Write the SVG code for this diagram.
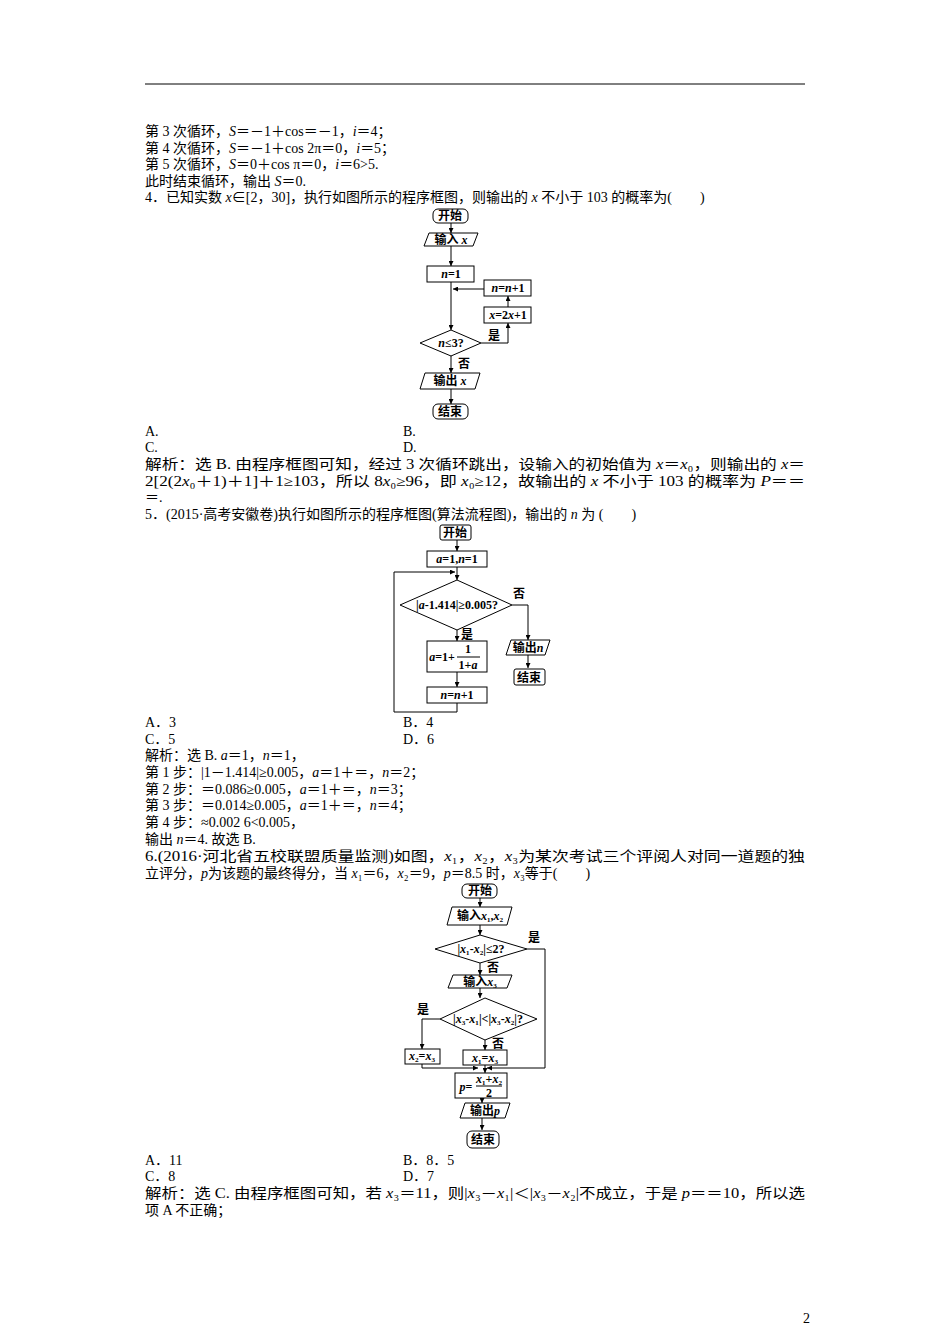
<svg xmlns="http://www.w3.org/2000/svg" width="950" height="1344" viewBox="0 0 950 1344">
<defs>
<marker id="ah" viewBox="0 0 6 6" refX="6" refY="3" markerWidth="5" markerHeight="5" orient="auto"><path d="M0,0 L6,3 L0,6 z" fill="#000"/></marker>
</defs>
<style>
.t{font-family:"Liberation Serif","Noto Sans CJK SC",serif;font-size:14px;fill:#000}
.f{font-family:"Liberation Serif","Noto Sans CJK SC",serif;font-size:12px;font-weight:bold;fill:#000;text-anchor:middle}
.s{fill:#fff;stroke:#000;stroke-width:1}
.c{fill:none;stroke:#000;stroke-width:1}
</style>
<rect width="950" height="1344" fill="#fff"/>
<line x1="145" y1="84" x2="805" y2="84" stroke="#000" stroke-width="1"/>
<g id="text">
<text class="t" x="145" y="136">第 3 次循环，<tspan font-style="italic">S</tspan>＝－1＋cos＝－1，<tspan font-style="italic">i</tspan>＝4；</text>
<text class="t" x="145" y="153">第 4 次循环，<tspan font-style="italic">S</tspan>＝－1＋cos 2π＝0，<tspan font-style="italic">i</tspan>＝5；</text>
<text class="t" x="145" y="169">第 5 次循环，<tspan font-style="italic">S</tspan>＝0＋cos π＝0，<tspan font-style="italic">i</tspan>＝6&gt;5.</text>
<text class="t" x="145" y="186">此时结束循环，输出 <tspan font-style="italic">S</tspan>＝0.</text>
<text class="t" x="145" y="202">4．已知实数 <tspan font-style="italic">x</tspan>∈[2，30]，执行如图所示的程序框图，则输出的 <tspan font-style="italic">x</tspan> 不小于 103 的概率为(　　)</text>
<text class="t" x="145" y="436">A.</text><text class="t" x="403" y="436">B.</text>
<text class="t" x="145" y="452">C.</text><text class="t" x="403" y="452">D.</text>
<text class="t" x="145" y="469" textLength="660" lengthAdjust="spacingAndGlyphs">解析：选 B. 由程序框图可知，经过 3 次循环跳出，设输入的初始值为 <tspan font-style="italic">x</tspan>＝<tspan font-style="italic">x</tspan>₀，则输出的 <tspan font-style="italic">x</tspan>＝</text>
<text class="t" x="145" y="486" textLength="660" lengthAdjust="spacingAndGlyphs">2[2(2<tspan font-style="italic">x</tspan>₀＋1)＋1]＋1≥103，所以 8<tspan font-style="italic">x</tspan>₀≥96，即 <tspan font-style="italic">x</tspan>₀≥12，故输出的 <tspan font-style="italic">x</tspan> 不小于 103 的概率为 <tspan font-style="italic">P</tspan>＝＝</text>
<text class="t" x="145" y="502">＝.</text>
<text class="t" x="145" y="519">5．(2015·高考安徽卷)执行如图所示的程序框图(算法流程图)，输出的 <tspan font-style="italic">n</tspan> 为 (　　)</text>
<text class="t" x="145" y="727">A．3</text><text class="t" x="403" y="727">B．4</text>
<text class="t" x="145" y="744">C．5</text><text class="t" x="403" y="744">D．6</text>
<text class="t" x="145" y="760">解析：选 B. <tspan font-style="italic">a</tspan>＝1，<tspan font-style="italic">n</tspan>＝1，</text>
<text class="t" x="145" y="777">第 1 步：|1－1.414|≥0.005，<tspan font-style="italic">a</tspan>＝1＋＝，<tspan font-style="italic">n</tspan>＝2；</text>
<text class="t" x="145" y="794">第 2 步：＝0.086≥0.005，<tspan font-style="italic">a</tspan>＝1＋＝，<tspan font-style="italic">n</tspan>＝3；</text>
<text class="t" x="145" y="810">第 3 步：＝0.014≥0.005，<tspan font-style="italic">a</tspan>＝1＋＝，<tspan font-style="italic">n</tspan>＝4；</text>
<text class="t" x="145" y="827">第 4 步：≈0.002 6&lt;0.005，</text>
<text class="t" x="145" y="844">输出 <tspan font-style="italic">n</tspan>＝4. 故选 B.</text>
<text class="t" x="145" y="861" textLength="660" lengthAdjust="spacingAndGlyphs">6.(2016·河北省五校联盟质量监测)如图，<tspan font-style="italic">x</tspan>₁，<tspan font-style="italic">x</tspan>₂，<tspan font-style="italic">x</tspan>₃为某次考试三个评阅人对同一道题的独</text>
<text class="t" x="145" y="878">立评分，<tspan font-style="italic">p</tspan>为该题的最终得分，当 <tspan font-style="italic">x</tspan>₁＝6，<tspan font-style="italic">x</tspan>₂＝9，<tspan font-style="italic">p</tspan>＝8.5 时，<tspan font-style="italic">x</tspan>₃等于(　　)</text>
<text class="t" x="145" y="1165">A．11</text><text class="t" x="403" y="1165">B．8．5</text>
<text class="t" x="145" y="1181">C．8</text><text class="t" x="403" y="1181">D．7</text>
<text class="t" x="145" y="1198" textLength="660" lengthAdjust="spacingAndGlyphs">解析：选 C. 由程序框图可知，若 <tspan font-style="italic">x</tspan>₃＝11，则|<tspan font-style="italic">x</tspan>₃－<tspan font-style="italic">x</tspan>₁|＜|<tspan font-style="italic">x</tspan>₃－<tspan font-style="italic">x</tspan>₂|不成立，于是 <tspan font-style="italic">p</tspan>＝＝10，所以选</text>
<text class="t" x="145" y="1215">项 A 不正确；</text>
<text class="t" x="803" y="1323">2</text>
</g>
<g id="fc1-connectors">
<line class="c" x1="451" y1="223" x2="451" y2="233" marker-end="url(#ah)"/>
<line class="c" x1="451" y1="246" x2="451" y2="266" marker-end="url(#ah)"/>
<line class="c" x1="451" y1="282" x2="451" y2="330" marker-end="url(#ah)"/>
<polyline class="c" points="481,343 508,343 508,323" marker-end="url(#ah)"/>
<line class="c" x1="508" y1="307" x2="508" y2="296" marker-end="url(#ah)"/>
<line class="c" x1="484" y1="289" x2="453" y2="289" marker-end="url(#ah)"/>
<line class="c" x1="451" y1="355" x2="451" y2="373" marker-end="url(#ah)"/>
<line class="c" x1="451" y1="389" x2="451" y2="404" marker-end="url(#ah)"/>
<text class="f" x="494" y="340">是</text>
<text class="f" x="464" y="368">否</text>
</g>
<g id="fc1-start"><rect class="s" x="433" y="209" width="35" height="14" rx="5"/><text class="f" x="450" y="220">开始</text></g>
<g id="fc1-input"><polygon class="s" points="429,233 478,233 473,246 424,246"/><text class="f" x="451" y="244">输入 <tspan font-style="italic">x</tspan></text></g>
<g id="fc1-n1"><rect class="s" x="427" y="266" width="47" height="16"/><text class="f" x="451" y="278"><tspan font-style="italic">n</tspan>=1</text></g>
<g id="fc1-nn"><rect class="s" x="484" y="280" width="47" height="16"/><text class="f" x="508" y="292"><tspan font-style="italic">n</tspan>=<tspan font-style="italic">n</tspan>+1</text></g>
<g id="fc1-x"><rect class="s" x="484" y="307" width="47" height="16"/><text class="f" x="508" y="319"><tspan font-style="italic">x</tspan>=2<tspan font-style="italic">x</tspan>+1</text></g>
<g id="fc1-dec"><polygon class="s" points="451,330 481,343 451,356 420,343"/><text class="f" x="451" y="347"><tspan font-style="italic">n</tspan>≤3?</text></g>
<g id="fc1-out"><polygon class="s" points="425,373 480,373 475,389 420,389"/><text class="f" x="450" y="385">输出 <tspan font-style="italic">x</tspan></text></g>
<g id="fc1-end"><rect class="s" x="433" y="404" width="35" height="15" rx="5"/><text class="f" x="450" y="416">结束</text></g>
<g id="fc2-connectors">
<line class="c" x1="457" y1="540" x2="457" y2="551" marker-end="url(#ah)"/>
<line class="c" x1="457" y1="567" x2="457" y2="580" marker-end="url(#ah)"/>
<polyline class="c" points="457,703 457,712 394,712 394,572 455,572" marker-end="url(#ah)"/>
<polyline class="c" points="512,605 528,605 528,640" marker-end="url(#ah)"/>
<line class="c" x1="457" y1="630" x2="457" y2="641" marker-end="url(#ah)"/>
<line class="c" x1="457" y1="672" x2="457" y2="687" marker-end="url(#ah)"/>
<line class="c" x1="528" y1="655" x2="528" y2="668" marker-end="url(#ah)"/>
<text class="f" x="519" y="598">否</text>
<text class="f" x="467" y="639">是</text>
</g>
<g id="fc2-start"><rect class="s" x="440" y="525" width="31" height="15" rx="2"/><text class="f" x="455" y="537">开始</text></g>
<g id="fc2-init"><rect class="s" x="427" y="551" width="60" height="16"/><text class="f" x="457" y="563"><tspan font-style="italic">a</tspan>=1,<tspan font-style="italic">n</tspan>=1</text></g>
<g id="fc2-dec"><polygon class="s" points="457,580 512,605 457,630 400,605"/><text class="f" x="457" y="609" font-size="11">|<tspan font-style="italic">a</tspan>-1.414|≥0.005?</text></g>
<g id="fc2-a"><rect class="s" x="427" y="641" width="60" height="31"/><text class="f" x="442" y="661"><tspan font-style="italic">a</tspan>=1+</text><text class="f" x="468" y="653">1</text><line x1="457" y1="657" x2="480" y2="657" stroke="#000"/><text class="f" x="468" y="669">1+<tspan font-style="italic">a</tspan></text></g>
<g id="fc2-nn"><rect class="s" x="427" y="687" width="60" height="16"/><text class="f" x="457" y="699"><tspan font-style="italic">n</tspan>=<tspan font-style="italic">n</tspan>+1</text></g>
<g id="fc2-out"><polygon class="s" points="511,640 550,640 545,655 506,655"/><text class="f" x="528" y="652">输出<tspan font-style="italic">n</tspan></text></g>
<g id="fc2-end"><rect class="s" x="514" y="669" width="31" height="16" rx="2"/><text class="f" x="529" y="682">结束</text></g>
<g id="fc3-connectors">
<line class="c" x1="480" y1="898" x2="480" y2="907" marker-end="url(#ah)"/>
<line class="c" x1="480" y1="925" x2="480" y2="935" marker-end="url(#ah)"/>
<polyline class="c" points="527,949 545,949 545,1068 487,1068" marker-end="url(#ah)"/>
<line class="c" x1="480" y1="963" x2="480" y2="975" marker-end="url(#ah)"/>
<line class="c" x1="480" y1="988" x2="480" y2="998" marker-end="url(#ah)"/>
<polyline class="c" points="440,1019 422,1019 422,1049" marker-end="url(#ah)"/>
<line class="c" x1="485" y1="1040" x2="485" y2="1050" marker-end="url(#ah)"/>
<polyline class="c" points="422,1064 422,1068 478,1068" marker-end="url(#ah)"/>
<line class="c" x1="485" y1="1065" x2="485" y2="1073" marker-end="url(#ah)"/>
<line class="c" x1="482" y1="1098" x2="482" y2="1103" marker-end="url(#ah)"/>
<line class="c" x1="482" y1="1118" x2="482" y2="1130" marker-end="url(#ah)"/>
<text class="f" x="534" y="942">是</text>
<text class="f" x="493" y="972">否</text>
<text class="f" x="423" y="1014">是</text>
<text class="f" x="498" y="1048" font-size="11">否</text>
</g>
<g id="fc3-start"><rect class="s" x="462" y="884" width="35" height="14" rx="5"/><text class="f" x="480" y="895">开始</text></g>
<g id="fc3-in1"><polygon class="s" points="452,907 512,907 507,925 447,925"/><text class="f" x="480" y="920">输入<tspan font-style="italic">x</tspan>₁,<tspan font-style="italic">x</tspan>₂</text></g>
<g id="fc3-dec1"><polygon class="s" points="480,935 527,949 480,963 435,949"/><text class="f" x="481" y="953" font-size="11">|<tspan font-style="italic">x</tspan>₁-<tspan font-style="italic">x</tspan>₂|≤2?</text></g>
<g id="fc3-in3"><polygon class="s" points="453,975 512,975 507,988 448,988"/><text class="f" x="480" y="986">输入<tspan font-style="italic">x</tspan>₃</text></g>
<g id="fc3-dec2"><polygon class="s" points="485,998 537,1019 485,1040 440,1019"/><text class="f" x="488" y="1023" font-size="10.5">|<tspan font-style="italic">x</tspan>₃-<tspan font-style="italic">x</tspan>₁|&lt;|<tspan font-style="italic">x</tspan>₃-<tspan font-style="italic">x</tspan>₂|?</text></g>
<g id="fc3-x2"><rect class="s" x="405" y="1049" width="35" height="15"/><text class="f" x="422" y="1060" font-size="11"><tspan font-style="italic">x</tspan>₂=<tspan font-style="italic">x</tspan>₃</text></g>
<g id="fc3-x1"><rect class="s" x="463" y="1050" width="44" height="15"/><text class="f" x="485" y="1062"><tspan font-style="italic">x</tspan>₁=<tspan font-style="italic">x</tspan>₃</text></g>
<g id="fc3-p"><rect class="s" x="455" y="1073" width="52" height="25"/><text class="f" x="466" y="1091"><tspan font-style="italic">p</tspan>=</text><text class="f" x="489" y="1083" font-size="10"><tspan font-style="italic">x</tspan>₁+<tspan font-style="italic">x</tspan>₂</text><line x1="476" y1="1086" x2="502" y2="1086" stroke="#000"/><text class="f" x="489" y="1097">2</text></g>
<g id="fc3-out"><polygon class="s" points="465,1103 510,1103 505,1118 460,1118"/><text class="f" x="485" y="1115">输出<tspan font-style="italic">p</tspan></text></g>
<g id="fc3-end"><rect class="s" x="467" y="1131" width="32" height="17" rx="5"/><text class="f" x="483" y="1144">结束</text></g>
</svg>
